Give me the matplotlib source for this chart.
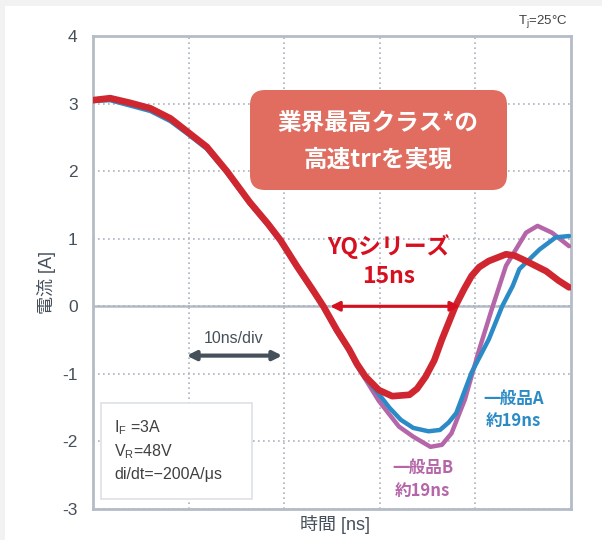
import matplotlib
matplotlib.use("Agg")
import matplotlib.pyplot as plt
from matplotlib.patches import FancyBboxPatch, Rectangle

plt.rcParams['font.family'] = ['Liberation Sans', 'Noto Sans CJK JP', 'DejaVu Sans']

# ---- data (time in ns, current in A) ----
t_yq = [0, 1.8, 3.9, 6.0, 8.1, 10.0, 11.9, 14.0, 16.4, 18.3, 19.6, 21.3, 23.0,
        24.1, 25.5, 26.8, 27.6, 28.5, 29.9, 31.3, 33.1, 33.9, 34.8, 35.7, 36.5, 37.9,
        38.8, 39.6, 40.4, 41.4, 43.2, 44.1, 45.3, 47.4, 48.7, 49.8]
i_yq = [3.05, 3.08, 3.01, 2.93, 2.78, 2.57, 2.36, 2.00, 1.54, 1.22, 0.98, 0.60, 0.24,
        0.0, -0.35, -0.64, -0.85, -1.04, -1.24, -1.33, -1.31, -1.22, -1.04, -0.80, -0.49, 0.0,
        0.25, 0.45, 0.58, 0.67, 0.77, 0.75, 0.67, 0.52, 0.38, 0.28]

t_a = [0, 1.8, 3.9, 6.0, 8.1, 10.0, 11.9, 14.0, 16.4, 18.3, 19.6, 21.3, 23.0,
       24.1, 25.5, 26.8, 27.6, 28.5, 29.9, 31.0, 32.2, 33.5, 35.1, 36.3, 37.2, 38.0,
       39.6, 41.4, 42.8, 43.9, 44.6, 46.7, 48.4, 49.8]
i_a = [3.04, 3.05, 2.97, 2.89, 2.74, 2.54, 2.33, 1.98, 1.52, 1.20, 0.96, 0.58, 0.22,
       -0.02, -0.37, -0.66, -0.87, -1.06, -1.30, -1.50, -1.68, -1.80, -1.85, -1.83, -1.72, -1.58,
       -0.98, -0.49, 0.0, 0.30, 0.55, 0.84, 1.02, 1.04]

t_b = [0, 1.8, 3.9, 6.0, 8.1, 10.0, 11.9, 14.0, 16.4, 18.3, 19.6, 21.3, 23.0,
       24.1, 25.5, 26.8, 27.6, 28.5, 29.9, 31.0, 32.0, 33.5, 35.3, 36.5, 37.5, 38.9,
       40.4, 41.7, 43.2, 45.3, 46.5, 48.0, 49.8]
i_b = [3.05, 3.07, 3.00, 2.92, 2.77, 2.56, 2.35, 1.99, 1.53, 1.21, 0.97, 0.59, 0.23,
       -0.02, -0.37, -0.66, -0.88, -1.08, -1.40, -1.60, -1.78, -1.93, -2.08, -2.05, -1.88, -1.38,
       -0.64, -0.05, 0.60, 1.09, 1.19, 1.09, 0.89]

y_ticks = [4, 3, 2, 1, 0, -1, -2, -3]
x_grid = [10, 20, 30, 40]

c_red = '#d0262f'
c_blue = '#2b8bc6'
c_purple = '#b466a8'
c_text = '#46505a'
c_spine = '#b4bcc6'

fig = plt.figure(figsize=(6.02, 5.40), dpi=100, facecolor='white')
# light gray page strip on top / left
fig.patches.append(Rectangle((0, 0), 1, 1, transform=fig.transFigure,
                             facecolor='#f2f2f2', edgecolor='none', zorder=-10))
fig.patches.append(Rectangle((5/602, 0), 1, 1 - 6/540, transform=fig.transFigure,
                             facecolor='white', edgecolor='none', zorder=-9))

ax = fig.add_axes([93/602, (540-509)/540, (571-93)/602, (509-36)/540])
ax.set_xlim(0, 50)
ax.set_ylim(-3, 4)
ax.set_facecolor('white')

for s in ax.spines.values():
    s.set_color(c_spine)
    s.set_linewidth(2.0)

ax.set_xticks(x_grid)
ax.set_xticklabels([])
ax.set_yticks(y_ticks)
ax.set_yticklabels([str(v) for v in y_ticks], fontsize=12.5, color=c_text)
ax.tick_params(axis='both', length=0)
ax.tick_params(axis='y', pad=11)
ax.grid(True, color='#aab3bd', linestyle=(0, (1, 2)), linewidth=1.2)
ax.axhline(0, color=c_spine, linewidth=1.8, zorder=1)

ax.plot(t_b, i_b, color=c_purple, lw=3.2, solid_joinstyle='round', solid_capstyle='round', zorder=3)
ax.plot(t_a, i_a, color=c_blue, lw=3.2, solid_joinstyle='round', solid_capstyle='round', zorder=4)
ax.plot(t_yq, i_yq, color=c_red, lw=4.8, solid_joinstyle='round', solid_capstyle='round', zorder=5)

fig.text(47/602, 1 - 282/540, '電流 [A]', rotation=90, ha='center', va='center',
         fontsize=13, color=c_text)
fig.text(335/602, 1 - 525/540, '時間 [ns]', ha='center', va='center',
         fontsize=13, color=c_text)

# highlight box
box = FancyBboxPatch((2.50, 3.50), 2.57, 1.00, boxstyle='round,pad=0,rounding_size=0.15',
                     transform=fig.dpi_scale_trans, facecolor='#e06d5f', edgecolor='none', zorder=6)
fig.patches.append(box)
fig.text(378/602, 1 - 123/540, '業界最高クラス*の', ha='center', va='center', color='white',
         fontsize=17, fontweight='bold', family=['Noto Sans CJK JP'], zorder=7)
fig.text(378/602, 1 - 160/540, '高速trrを実現', ha='center', va='center', color='white',
         fontsize=17, fontweight='bold', family=['Noto Sans CJK JP'], zorder=7)

# YQ label + arrow
ax.text(30.9, 0.88, 'YQシリーズ', ha='center', va='center', color='#d7101f',
        fontsize=16.5, fontweight='bold', family=['Noto Sans CJK JP'], zorder=7)
ax.text(30.9, 0.44, '15ns', ha='center', va='center', color='#d7101f',
        fontsize=16.5, fontweight='bold', family=['Noto Sans CJK JP'], zorder=7)
ax.annotate('', xy=(24.8, 0), xytext=(38.4, 0),
            arrowprops=dict(arrowstyle='<|-|>', color='#d7101f', lw=2.2,
                            mutation_scale=14, shrinkA=0, shrinkB=0), zorder=7)

# 10ns/div
ax.text(14.7, -0.48, '10ns/div', ha='center', va='center', color=c_text, fontsize=11.5)
ax.annotate('', xy=(9.8, -0.73), xytext=(19.8, -0.73),
            arrowprops=dict(arrowstyle='<|-|>', color=c_text, lw=3.0,
                            mutation_scale=13, shrinkA=0, shrinkB=0), zorder=7)

# labels for conventional products
ax.text(44.0, -1.37, '一般品A', ha='center', va='center', color=c_blue,
        fontsize=12, fontweight='bold', family=['Noto Sans CJK JP'])
ax.text(44.0, -1.70, '約19ns', ha='center', va='center', color=c_blue,
        fontsize=12, fontweight='bold', family=['Noto Sans CJK JP'])
ax.text(34.5, -2.40, '一般品B', ha='center', va='center', color=c_purple,
        fontsize=12, fontweight='bold', family=['Noto Sans CJK JP'])
ax.text(34.5, -2.73, '約19ns', ha='center', va='center', color=c_purple,
        fontsize=12, fontweight='bold', family=['Noto Sans CJK JP'])

# conditions box
fig.patches.append(Rectangle((101/602, 1 - 499/540), 151/602, 96/540, transform=fig.transFigure,
                             facecolor='white', edgecolor='#dde1e5', linewidth=1.2, zorder=6))
cond = ['$\\mathregular{I_F}$ =3A', '$\\mathregular{V_R}$=48V', 'di/dt=\u2212200A/\u03bcs']
for k, s in enumerate(cond):
    fig.text(114/602, 1 - (428 + 23.5*k)/540, s, ha='left', va='center', color='#404040',
             fontsize=11.5, zorder=7)

fig.text(567/602, 1 - 22/540, '$\\mathregular{T_j}$=25°C', ha='right', va='center',
         color='#404040', fontsize=9.5)

fig.savefig('out.png', dpi=100, facecolor=fig.get_facecolor())
